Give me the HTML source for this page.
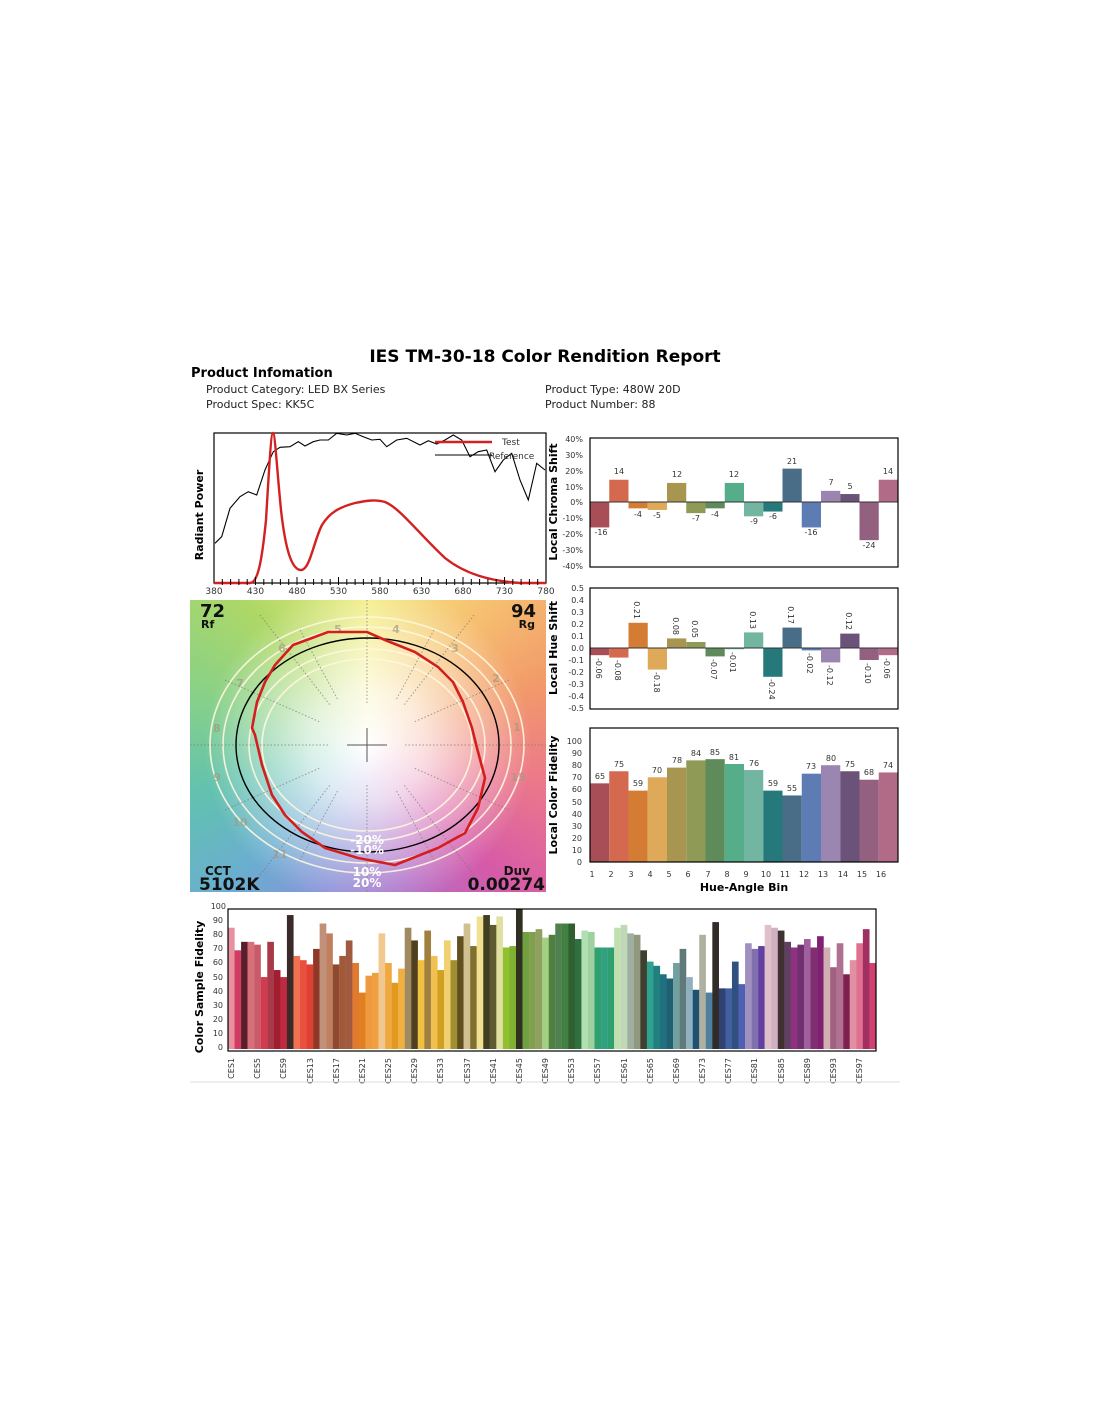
<!DOCTYPE html>
<html><head><meta charset="utf-8"><style>
body{margin:0;background:#fff;width:1100px;height:1422px;position:relative;overflow:hidden;font-family:"DejaVu Sans","Liberation Sans",sans-serif}
#cvg{position:absolute;left:190px;top:600px;width:356px;height:292px;
background:radial-gradient(ellipse 46% 56% at 50% 50%,rgba(255,255,255,1) 0%,rgba(255,255,255,.75) 35%,rgba(255,255,255,0) 100%),
conic-gradient(from 0deg at 50% 50%,#f4ee86 0deg,#f6c070 40deg,#f29a6a 70deg,#ec7a88 100deg,#d65aa8 135deg,#b070c8 165deg,#8a90d8 195deg,#6aaed0 225deg,#62c2ae 255deg,#86d08a 285deg,#aed866 320deg,#f4ee86 360deg)}
svg{position:absolute;left:0;top:0}
</style></head><body>
<div id="cvg"></div>
<svg width="1100" height="1422" viewBox="0 0 1100 1422" font-family="DejaVu Sans, Liberation Sans, sans-serif">
<text x="545" y="362" font-size="17" font-weight="bold" text-anchor="middle">IES TM-30-18 Color Rendition Report</text>
<text x="191" y="377" font-size="13" font-weight="bold">Product Infomation</text>
<g font-size="11" fill="#222">
<text x="206" y="393">Product Category: LED BX Series</text>
<text x="206" y="408">Product Spec: KK5C</text>
<text x="545" y="393">Product Type: 480W  20D</text>
<text x="545" y="408">Product Number: 88</text></g>

<!-- spectrum -->
<rect x="214" y="433" width="332" height="150" fill="none" stroke="#000" stroke-width="1.2"/>
<text transform="translate(203,515) rotate(-90)" font-size="11" font-weight="bold" text-anchor="middle">Radiant Power</text>
<path d="M215,543.3 L221.7,536.7 L230,508.3 L240,496.7 L248.3,491.7 L256.7,495 L265,470 L273.3,451.7 L280,447.3 L290,446.7 L298.3,441.7 L305,446 L313.3,441.7 L320,440 L328.3,440 L336.7,433.3 L346.7,435 L355,433.3 L363.3,436.7 L371.7,440 L380,439.3 L386.7,446.7 L396.7,440 L406.7,438.3 L420,445 L428.3,440.7 L436.7,444 L445,440 L453.3,435 L461.7,440 L470,456.7 L478.3,451.7 L486.7,450 L495,471.7 L503.3,460 L511.7,453.3 L520,480 L528.3,500 L536.7,463.3 L545,470" fill="none" stroke="#000" stroke-width="1.1"/>
<path d="M214,583 L250,583 C258,583 262,560 266,520 C269,470 271,433 273,433 C275,433 277,470 281,510 C286,555 293,570 301,570 C310,570 314,540 322,525 C330,512 340,507 355,503 C365,501 375,499 385,502 C400,508 420,535 445,558 C465,574 490,581 520,583 L546,583" fill="none" stroke="#d42020" stroke-width="2.4"/>
<line x1="435" y1="442" x2="492" y2="442" stroke="#d42020" stroke-width="2.4"/><text x="502" y="445" font-size="9" fill="#333">Test</text>
<line x1="435" y1="455" x2="492" y2="455" stroke="#000"/><text x="489" y="459" font-size="9" fill="#333">Reference</text>
<g stroke="#000" stroke-width="1">
<path d="M222.3,579v6M230.6,579v6M238.9,579v6M247.2,579v6M255.5,577v8M263.8,579v6M272.1,579v6M280.4,579v6M288.7,579v6M297,577v8M305.3,579v6M313.6,579v6M321.9,579v6M330.2,579v6M338.5,577v8M346.8,579v6M355.1,579v6M363.4,579v6M371.7,579v6M380,577v8M388.3,579v6M396.6,579v6M404.9,579v6M413.2,579v6M421.5,577v8M429.8,579v6M438.1,579v6M446.4,579v6M454.7,579v6M463,577v8M471.3,579v6M479.6,579v6M487.9,579v6M496.2,579v6M504.5,577v8M512.8,579v6M521.1,579v6M529.4,579v6M537.7,579v6"/></g>
<g font-size="9" fill="#333" text-anchor="middle"><text x="214" y="594">380</text><text x="255.5" y="594">430</text><text x="297" y="594">480</text><text x="338.5" y="594">530</text><text x="380" y="594">580</text><text x="421.5" y="594">630</text><text x="463" y="594">680</text><text x="504.5" y="594">730</text><text x="546" y="594">780</text></g>

<!-- color vector graphic overlay -->
<g fill="none" stroke="#fff8e0" stroke-width="1.6" opacity=".9">
<ellipse cx="367" cy="745" rx="105" ry="86"/><ellipse cx="367" cy="745" rx="118" ry="96"/>
<ellipse cx="367" cy="745" rx="144" ry="118"/><ellipse cx="367" cy="745" rx="157" ry="128"/></g>
<g stroke="#777" stroke-width="1" stroke-dasharray="1.5,2" opacity=".7">
<path d="M367,600V705M367,785V892M190,745H330M405,745H546M300,630L338,700M434,630L396,700M300,860L338,790M434,860L396,790M225,680L320,722M509,680L414,722M225,810L320,768M509,810L414,768M260,615L330,705M474,615L404,705M260,875L330,785M474,875L404,785"/></g>
<path d="M347,745H387M367,728V762" stroke="#555" stroke-width="1"/>
<g font-size="11" font-weight="bold" fill="#a09a80" opacity=".7" text-anchor="middle"><text x="517" y="731">1</text><text x="496" y="682">2</text><text x="455" y="652">3</text><text x="396" y="633">4</text><text x="338" y="633">5</text><text x="282" y="652">6</text><text x="240" y="687">7</text><text x="217" y="732">8</text><text x="217" y="781">9</text><text x="240" y="826">10</text><text x="280" y="858">11</text><text x="518" y="781">15</text></g>
<ellipse cx="367.5" cy="745" rx="131.5" ry="107" fill="none" stroke="#000" stroke-width="1.4"/>
<polygon points="328,632 367,632 385,640 415,652 438,667 453,682 463,702 472,728 477,748 485,778 478,808 465,833 438,848 395,865 358,858 325,848 302,832 285,815 272,795 262,765 255,735 252,728 257,702 265,682 275,665 293,645 312,638" fill="none" stroke="#d41e1e" stroke-width="2.6"/>
<g font-weight="bold" fill="#111">
<text x="200" y="617" font-size="18">72</text><text x="201" y="628" font-size="11">Rf</text>
<text x="536" y="617" font-size="18" text-anchor="end">94</text><text x="535" y="628" font-size="11" text-anchor="end">Rg</text>
<text x="205" y="875" font-size="12">CCT</text><text x="199" y="890" font-size="17">5102K</text>
<text x="530" y="875" font-size="12" text-anchor="end">Duv</text><text x="545" y="890" font-size="17" text-anchor="end">0.00274</text></g>
<g font-size="12" font-weight="bold" fill="#fff" text-anchor="middle"><text x="367" y="844">-20%</text><text x="367" y="854">-10%</text><text x="367" y="876">10%</text><text x="367" y="887">20%</text></g>

<!-- chroma shift -->
<g transform="translate(590,502) scale(19.25,-1.59)">
<rect x="0" y="-16" width="1" height="16" fill="#a84e57"/><rect x="1" y="0" width="1" height="14" fill="#d4694f"/><rect x="2" y="-4" width="1" height="4" fill="#d47c33"/><rect x="3" y="-5" width="1" height="5" fill="#dfa95a"/><rect x="4" y="0" width="1" height="12" fill="#a89650"/><rect x="5" y="-7" width="1" height="7" fill="#8e9a56"/><rect x="6" y="-4" width="1" height="4" fill="#5f8a5a"/><rect x="7" y="0" width="1" height="12" fill="#55ad89"/><rect x="8" y="-9" width="1" height="9" fill="#72b6a1"/><rect x="9" y="-6" width="1" height="6" fill="#25797a"/><rect x="10" y="0" width="1" height="21" fill="#4a6d87"/><rect x="11" y="-16" width="1" height="16" fill="#5d7cb3"/><rect x="12" y="0" width="1" height="7" fill="#9a86b0"/><rect x="13" y="0" width="1" height="5" fill="#6b5278"/><rect x="14" y="-24" width="1" height="24" fill="#94607f"/><rect x="15" y="0" width="1" height="14" fill="#b26b87"/></g>
<line x1="590" y1="502" x2="898" y2="502" stroke="#333"/>
<rect x="590" y="438" width="308" height="129" fill="none" stroke="#000" stroke-width="1.2"/>
<g font-size="8" fill="#333" text-anchor="end"><text x="583" y="442">40%</text><text x="583" y="458">30%</text><text x="583" y="474">20%</text><text x="583" y="490">10%</text><text x="583" y="505">0%</text><text x="583" y="521">-10%</text><text x="583" y="537">-20%</text><text x="583" y="553">-30%</text><text x="583" y="569">-40%</text></g>
<text transform="translate(557,502) rotate(-90)" font-size="11" font-weight="bold" text-anchor="middle">Local Chroma Shift</text>
<g font-size="8" fill="#333" text-anchor="middle"><text x="601" y="535">-16</text><text x="619" y="474">14</text><text x="638" y="517">-4</text><text x="657" y="518">-5</text><text x="677" y="477">12</text><text x="696" y="521">-7</text><text x="715" y="517">-4</text><text x="734" y="477">12</text><text x="754" y="524">-9</text><text x="773" y="519">-6</text><text x="792" y="464">21</text><text x="811" y="535">-16</text><text x="831" y="485">7</text><text x="850" y="489">5</text><text x="869" y="548">-24</text><text x="888" y="474">14</text></g>

<!-- hue shift -->
<g transform="translate(590,648) scale(19.25,-120)">
<rect x="0" y="-.06" width="1" height=".06" fill="#a84e57"/><rect x="1" y="-.08" width="1" height=".08" fill="#d4694f"/><rect x="2" y="0" width="1" height=".21" fill="#d47c33"/><rect x="3" y="-.18" width="1" height=".18" fill="#dfa95a"/><rect x="4" y="0" width="1" height=".08" fill="#a89650"/><rect x="5" y="0" width="1" height=".05" fill="#8e9a56"/><rect x="6" y="-.07" width="1" height=".07" fill="#5f8a5a"/><rect x="7" y="-.01" width="1" height=".01" fill="#55ad89"/><rect x="8" y="0" width="1" height=".13" fill="#72b6a1"/><rect x="9" y="-.24" width="1" height=".24" fill="#25797a"/><rect x="10" y="0" width="1" height=".17" fill="#4a6d87"/><rect x="11" y="-.02" width="1" height=".02" fill="#5d7cb3"/><rect x="12" y="-.12" width="1" height=".12" fill="#9a86b0"/><rect x="13" y="0" width="1" height=".12" fill="#6b5278"/><rect x="14" y="-.10" width="1" height=".10" fill="#94607f"/><rect x="15" y="-.06" width="1" height=".06" fill="#b26b87"/></g>
<line x1="590" y1="648" x2="898" y2="648" stroke="#333"/>
<rect x="590" y="588" width="308" height="121" fill="none" stroke="#000" stroke-width="1.2"/>
<g font-size="8" fill="#333" text-anchor="end"><text x="584" y="591">0.5</text><text x="584" y="603">0.4</text><text x="584" y="615">0.3</text><text x="584" y="627">0.2</text><text x="584" y="639">0.1</text><text x="584" y="651">0.0</text><text x="584" y="663">-0.1</text><text x="584" y="675">-0.2</text><text x="584" y="687">-0.3</text><text x="584" y="699">-0.4</text><text x="584" y="711">-0.5</text></g>
<text transform="translate(557,648) rotate(-90)" font-size="11" font-weight="bold" text-anchor="middle">Local Hue Shift</text>
<g font-size="8" fill="#333">
<text transform="translate(596,658) rotate(90)">-0.06</text><text transform="translate(615,660) rotate(90)">-0.08</text><text transform="translate(634,619) rotate(90)" text-anchor="end">0.21</text><text transform="translate(654,672) rotate(90)">-0.18</text><text transform="translate(673,635) rotate(90)" text-anchor="end">0.08</text><text transform="translate(692,638) rotate(90)" text-anchor="end">0.05</text><text transform="translate(711,659) rotate(90)">-0.07</text><text transform="translate(730,652) rotate(90)">-0.01</text><text transform="translate(750,629) rotate(90)" text-anchor="end">0.13</text><text transform="translate(769,679) rotate(90)">-0.24</text><text transform="translate(788,624) rotate(90)" text-anchor="end">0.17</text><text transform="translate(807,653) rotate(90)">-0.02</text><text transform="translate(827,665) rotate(90)">-0.12</text><text transform="translate(846,630) rotate(90)" text-anchor="end">0.12</text><text transform="translate(865,663) rotate(90)">-0.10</text><text transform="translate(884,658) rotate(90)">-0.06</text></g>

<!-- local fidelity -->
<g transform="translate(590,862) scale(19.25,-1.21)">
<rect x="0" y="0" width="1" height="65" fill="#a84e57"/><rect x="1" y="0" width="1" height="75" fill="#d4694f"/><rect x="2" y="0" width="1" height="59" fill="#d47c33"/><rect x="3" y="0" width="1" height="70" fill="#dfa95a"/><rect x="4" y="0" width="1" height="78" fill="#a89650"/><rect x="5" y="0" width="1" height="84" fill="#8e9a56"/><rect x="6" y="0" width="1" height="85" fill="#5f8a5a"/><rect x="7" y="0" width="1" height="81" fill="#55ad89"/><rect x="8" y="0" width="1" height="76" fill="#72b6a1"/><rect x="9" y="0" width="1" height="59" fill="#25797a"/><rect x="10" y="0" width="1" height="55" fill="#4a6d87"/><rect x="11" y="0" width="1" height="73" fill="#5d7cb3"/><rect x="12" y="0" width="1" height="80" fill="#9a86b0"/><rect x="13" y="0" width="1" height="75" fill="#6b5278"/><rect x="14" y="0" width="1" height="68" fill="#94607f"/><rect x="15" y="0" width="1" height="74" fill="#b26b87"/></g>
<rect x="590" y="728" width="308" height="134" fill="none" stroke="#000" stroke-width="1.2"/>
<g font-size="8" fill="#333" text-anchor="end"><text x="582" y="865">0</text><text x="582" y="853">10</text><text x="582" y="841">20</text><text x="582" y="829">30</text><text x="582" y="817">40</text><text x="582" y="805">50</text><text x="582" y="792">60</text><text x="582" y="780">70</text><text x="582" y="768">80</text><text x="582" y="756">90</text><text x="582" y="744">100</text></g>
<text transform="translate(557,795) rotate(-90)" font-size="11" font-weight="bold" text-anchor="middle">Local Color Fidelity</text>
<g font-size="8" fill="#333" text-anchor="middle"><text x="600" y="779">65</text><text x="619" y="767">75</text><text x="638" y="786">59</text><text x="657" y="773">70</text><text x="677" y="763">78</text><text x="696" y="756">84</text><text x="715" y="755">85</text><text x="734" y="760">81</text><text x="754" y="766">76</text><text x="773" y="786">59</text><text x="792" y="791">55</text><text x="811" y="769">73</text><text x="831" y="761">80</text><text x="850" y="767">75</text><text x="869" y="775">68</text><text x="888" y="768">74</text></g>
<g font-size="8" fill="#333" text-anchor="middle"><text x="592" y="877">1</text><text x="611" y="877">2</text><text x="631" y="877">3</text><text x="650" y="877">4</text><text x="669" y="877">5</text><text x="688" y="877">6</text><text x="708" y="877">7</text><text x="727" y="877">8</text><text x="746" y="877">9</text><text x="766" y="877">10</text><text x="785" y="877">11</text><text x="804" y="877">12</text><text x="823" y="877">13</text><text x="843" y="877">14</text><text x="862" y="877">15</text><text x="881" y="877">16</text></g>
<text x="744" y="891" font-size="11" font-weight="bold" text-anchor="middle">Hue-Angle Bin</text>

<!-- CES -->
<g transform="translate(228,1049) scale(6.545,-1.41)">
<rect x="0" width="1.02" height="86" fill="#e8909e"/><rect x="1" width="1.02" height="70" fill="#d23c64"/><rect x="2" width="1.02" height="76" fill="#5a1e2a"/><rect x="3" width="1.02" height="76" fill="#d8707a"/><rect x="4" width="1.02" height="74" fill="#c85a6a"/><rect x="5" width="1.02" height="51" fill="#d23a50"/><rect x="6" width="1.02" height="76" fill="#a83a48"/><rect x="7" width="1.02" height="56" fill="#a01e30"/><rect x="8" width="1.02" height="51" fill="#c02a40"/><rect x="9" width="1.02" height="95" fill="#3a2a2a"/>
<rect x="10" width="1.02" height="66" fill="#f07050"/><rect x="11" width="1.02" height="63" fill="#e85040"/><rect x="12" width="1.02" height="60" fill="#e04030"/><rect x="13" width="1.02" height="71" fill="#903828"/><rect x="14" width="1.02" height="89" fill="#c09078"/><rect x="15" width="1.02" height="82" fill="#c08060"/><rect x="16" width="1.02" height="60" fill="#904a30"/><rect x="17" width="1.02" height="66" fill="#a05a3a"/><rect x="18" width="1.02" height="77" fill="#a05a40"/><rect x="19" width="1.02" height="61" fill="#e07a30"/>
<rect x="20" width="1.02" height="40" fill="#e08020"/><rect x="21" width="1.02" height="52" fill="#f09a40"/><rect x="22" width="1.02" height="54" fill="#f0a040"/><rect x="23" width="1.02" height="82" fill="#f0c890"/><rect x="24" width="1.02" height="61" fill="#f0a840"/><rect x="25" width="1.02" height="47" fill="#e09a20"/><rect x="26" width="1.02" height="57" fill="#f0b040"/><rect x="27" width="1.02" height="86" fill="#a08a60"/><rect x="28" width="1.02" height="77" fill="#504020"/><rect x="29" width="1.02" height="63" fill="#f0c040"/>
<rect x="30" width="1.02" height="84" fill="#a08040"/><rect x="31" width="1.02" height="66" fill="#f0c050"/><rect x="32" width="1.02" height="56" fill="#d0a020"/><rect x="33" width="1.02" height="77" fill="#f0d070"/><rect x="34" width="1.02" height="63" fill="#a09030"/><rect x="35" width="1.02" height="80" fill="#605020"/><rect x="36" width="1.02" height="89" fill="#d0c090"/><rect x="37" width="1.02" height="73" fill="#807030"/><rect x="38" width="1.02" height="94" fill="#f0e090"/><rect x="39" width="1.02" height="95" fill="#404020"/>
<rect x="40" width="1.02" height="88" fill="#605a30"/><rect x="41" width="1.02" height="94" fill="#e0e0a0"/><rect x="42" width="1.02" height="72" fill="#90c030"/><rect x="43" width="1.02" height="73" fill="#80b030"/><rect x="44" width="1.02" height="99" fill="#303020"/><rect x="45" width="1.02" height="83" fill="#70a040"/><rect x="46" width="1.02" height="83" fill="#80a050"/><rect x="47" width="1.02" height="85" fill="#90a060"/><rect x="48" width="1.02" height="79" fill="#a0d080"/><rect x="49" width="1.02" height="81" fill="#508040"/>
<rect x="50" width="1.02" height="89" fill="#508050"/><rect x="51" width="1.02" height="89" fill="#408040"/><rect x="52" width="1.02" height="89" fill="#306030"/><rect x="53" width="1.02" height="78" fill="#307040"/><rect x="54" width="1.02" height="84" fill="#b0e0b0"/><rect x="55" width="1.02" height="83" fill="#a0d0a0"/><rect x="56" width="1.02" height="72" fill="#30a070"/><rect x="57" width="1.02" height="72" fill="#30a080"/><rect x="58" width="1.02" height="72" fill="#30a070"/><rect x="59" width="1.02" height="86" fill="#c0e0b0"/>
<rect x="60" width="1.02" height="88" fill="#c0d8b8"/><rect x="61" width="1.02" height="82" fill="#a0b0a0"/><rect x="62" width="1.02" height="81" fill="#909880"/><rect x="63" width="1.02" height="70" fill="#404030"/><rect x="64" width="1.02" height="62" fill="#30a090"/><rect x="65" width="1.02" height="59" fill="#208080"/><rect x="66" width="1.02" height="53" fill="#207080"/><rect x="67" width="1.02" height="50" fill="#206070"/><rect x="68" width="1.02" height="61" fill="#70a0a0"/><rect x="69" width="1.02" height="71" fill="#607a7a"/>
<rect x="70" width="1.02" height="51" fill="#90b0c0"/><rect x="71" width="1.02" height="42" fill="#205070"/><rect x="72" width="1.02" height="81" fill="#b0b0a0"/><rect x="73" width="1.02" height="40" fill="#5080a0"/><rect x="74" width="1.02" height="90" fill="#302a28"/><rect x="75" width="1.02" height="43" fill="#304070"/><rect x="76" width="1.02" height="43" fill="#4060a0"/><rect x="77" width="1.02" height="62" fill="#305080"/><rect x="78" width="1.02" height="46" fill="#5060b0"/><rect x="79" width="1.02" height="75" fill="#a090c0"/>
<rect x="80" width="1.02" height="71" fill="#8070b0"/><rect x="81" width="1.02" height="73" fill="#6040a0"/><rect x="82" width="1.02" height="88" fill="#e0c0c8"/><rect x="83" width="1.02" height="86" fill="#d0b0c0"/><rect x="84" width="1.02" height="84" fill="#403030"/><rect x="85" width="1.02" height="76" fill="#604060"/><rect x="86" width="1.02" height="72" fill="#903080"/><rect x="87" width="1.02" height="74" fill="#703070"/><rect x="88" width="1.02" height="78" fill="#a060a0"/><rect x="89" width="1.02" height="72" fill="#803070"/>
<rect x="90" width="1.02" height="80" fill="#802070"/><rect x="91" width="1.02" height="72" fill="#d0b0b0"/><rect x="92" width="1.02" height="58" fill="#a06080"/><rect x="93" width="1.02" height="75" fill="#b07090"/><rect x="94" width="1.02" height="53" fill="#802050"/><rect x="95" width="1.02" height="63" fill="#e090a0"/><rect x="96" width="1.02" height="75" fill="#e07090"/><rect x="97" width="1.02" height="85" fill="#a03060"/><rect x="98" width="1.02" height="61" fill="#d04070"/></g>
<rect x="228" y="909" width="648" height="142" fill="none" stroke="#000" stroke-width="1.2"/>
<g font-size="8" fill="#333" text-anchor="end"><text x="223" y="1050">0</text><text x="223" y="1036">10</text><text x="223" y="1022">20</text><text x="223" y="1008">30</text><text x="223" y="994">40</text><text x="223" y="980">50</text><text x="223" y="965">60</text><text x="223" y="951">70</text><text x="223" y="937">80</text><text x="223" y="923">90</text><text x="226" y="909">100</text></g>
<text transform="translate(203,987) rotate(-90)" font-size="11" font-weight="bold" text-anchor="middle">Color Sample Fidelity</text>
<g font-size="8" fill="#333" text-anchor="end">
<text transform="translate(234,1058) rotate(-90)">CES1</text><text transform="translate(260,1058) rotate(-90)">CES5</text><text transform="translate(286,1058) rotate(-90)">CES9</text><text transform="translate(313,1058) rotate(-90)">CES13</text><text transform="translate(339,1058) rotate(-90)">CES17</text><text transform="translate(365,1058) rotate(-90)">CES21</text><text transform="translate(391,1058) rotate(-90)">CES25</text><text transform="translate(417,1058) rotate(-90)">CES29</text><text transform="translate(443,1058) rotate(-90)">CES33</text><text transform="translate(470,1058) rotate(-90)">CES37</text><text transform="translate(496,1058) rotate(-90)">CES41</text><text transform="translate(522,1058) rotate(-90)">CES45</text><text transform="translate(548,1058) rotate(-90)">CES49</text><text transform="translate(574,1058) rotate(-90)">CES53</text><text transform="translate(600,1058) rotate(-90)">CES57</text><text transform="translate(627,1058) rotate(-90)">CES61</text><text transform="translate(653,1058) rotate(-90)">CES65</text><text transform="translate(679,1058) rotate(-90)">CES69</text><text transform="translate(705,1058) rotate(-90)">CES73</text><text transform="translate(731,1058) rotate(-90)">CES77</text><text transform="translate(757,1058) rotate(-90)">CES81</text><text transform="translate(784,1058) rotate(-90)">CES85</text><text transform="translate(810,1058) rotate(-90)">CES89</text><text transform="translate(836,1058) rotate(-90)">CES93</text><text transform="translate(862,1058) rotate(-90)">CES97</text></g>
<line x1="190" y1="1082" x2="900" y2="1082" stroke="#ddd"/>
</svg>
</body></html>
